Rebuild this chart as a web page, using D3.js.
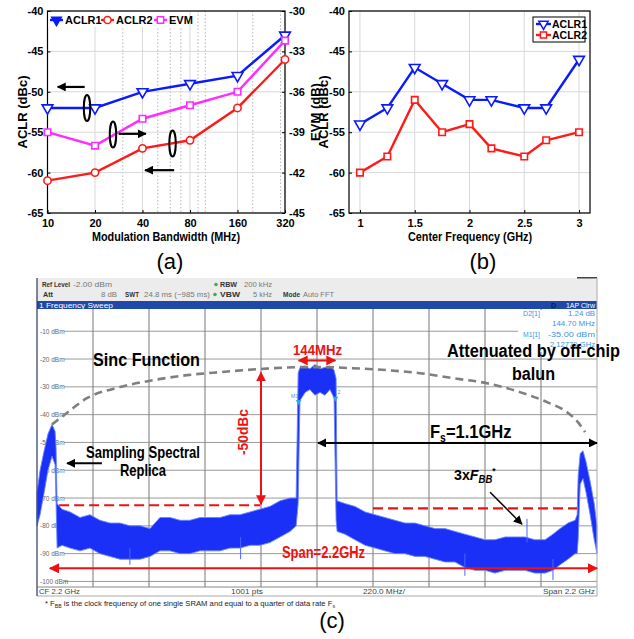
<!DOCTYPE html>
<html>
<head>
<meta charset="utf-8">
<script src="https://cdn.jsdelivr.net/npm/d3@7"></script>
<style>
body{margin:0;background:#fff;}
svg{display:block;font-family:"Liberation Sans",Arial,sans-serif;}
</style>
</head>
<body>
<svg id="svg" width="634" height="639"></svg>
<script>
// ---- panel (a): ACLR / EVM vs modulation bandwidth ----
var bwTicks=[10,20,40,80,160,320];
var bwMinor=[30,50,60,70,90,100,200,300];
var aclr1A=[-52,-52,-50,-49,-48,-43];
var aclr2A=[-61,-60,-57,-56,-52,-46];
var evmA=[-39,-40,-38,-37,-36,-32.2];
var aclrTicks=[-65,-60,-55,-50,-45,-40];
var evmTicks=[-45,-42,-39,-36,-33,-30];

// ---- panel (b): ACLR vs center frequency ----
var cFreq=[1,1.25,1.5,1.75,2,2.2,2.5,2.7,3];
var aclr1B=[-54,-52,-47,-49,-51,-51,-52,-52,-46];
var aclr2B=[-60,-58,-51,-55,-54,-57,-58,-56,-55];
var cfTicks=[1,1.5,2,2.5,3];

// ---- panel (c): spectrum (envelope of the trace, GHz / dBm) ----
var specF=[1.100,1.112,1.128,1.143,1.159,1.171,1.175,1.179,1.198,1.230,
           1.269,1.308,1.347,1.387,1.426,1.465,1.505,1.544,1.583,1.623,
           1.662,1.701,1.740,1.780,1.819,1.858,1.897,1.937,1.976,2.015,
           2.055,2.094,2.118,2.126,2.133,2.153,2.172,2.192,2.212,2.231,
           2.251,2.267,2.275,2.279,2.310,2.349,2.389,2.428,2.467,2.506,
           2.546,2.585,2.624,2.664,2.703,2.742,2.781,2.821,2.860,2.899,
           2.939,2.978,3.017,3.056,3.096,3.127,3.155,3.186,3.214,3.222,
           3.226,3.234,3.245,3.257,3.273,3.289,3.300];
var specHi=[-68,-60,-53,-47,-43.5,-46,-52,-72,-74,-75,
            -77,-76,-78,-79,-79,-80,-80,-81,-77,-77,
            -78,-78,-77,-77,-77,-76,-76,-75,-74,-73,
            -71,-70,-70,-25,-23,-22.5,-23.5,-22,-23.5,-23,
            -22.5,-24,-27,-71,-72,-73,-75,-76,-77,-78,
            -79,-79,-80,-81,-81,-82,-83,-84,-85,-85,
            -84,-84,-84,-85,-85,-83,-81,-79,-78,-76,
            -62,-54,-53,-57,-64,-72,-80];
var specLo=[-80,-76,-68,-60,-55,-58,-72,-88,-87,-88,
            -89,-88,-90,-91,-92,-92,-92,-91,-89,-89,
            -90,-90,-89,-89,-89,-88,-88,-87,-87,-86,
            -84,-82,-80,-72,-35,-32,-31,-33,-32,-33,
            -31,-34,-78,-82,-83,-85,-87,-88,-89,-90,
            -90,-91,-91,-92,-93,-93,-95,-96,-96,-97,
            -96,-96,-96,-97,-97,-96,-94,-92,-90,-90,
            -85,-65,-63,-68,-76,-85,-90];
var spurF=[1.465,1.900,2.781,3.025,3.127];
var spurTop=[-88,-84,-90,-77.5,-92];
var spurBot=[-94,-92,-98,-86,-99.5];
var sincF=[1.159,1.202,1.296,1.426,1.556,1.689,1.819,1.976,2.145,2.212,2.341,2.475,2.605,2.734,2.868,2.997,3.104,3.182,3.225,3.253];
var sincL=[-43.5,-40.5,-34.1,-30.1,-27.6,-25.8,-24.7,-23.6,-22.9,-22.9,-23.3,-24.0,-25.1,-26.9,-28.7,-31.9,-35.5,-39.1,-42.7,-46.3];
var levelTicks=[-10,-20,-30,-40,-50,-60,-70,-80,-90,-100];
var divF=[1.32,1.54,1.76,1.98,2.2,2.42,2.64,2.86,3.08];
var markF=[2.1277,2.2724];
var markL=[-35,-33.76];
var markName=["M1","2"];

var svg=d3.select("#svg");
var defs=svg.append("defs");
var BLUE="#0a1aff", RED="#ff1a1a", MAG="#ff2bff", ANRED="#ee1111";
var narrow="'Liberation Sans Narrow','Arial Narrow','Liberation Sans',Arial,sans-serif";

function arrowHead(id,color,size){
    defs.append("marker")
        .attr("id",id)
        .attr("viewBox","0 0 10 10")
        .attr("refX",9).attr("refY",5)
        .attr("markerWidth",size).attr("markerHeight",size)
        .attr("markerUnits","userSpaceOnUse")
        .attr("orient","auto-start-reverse")
      .append("path").attr("d","M0,0L10,5L0,10z").attr("fill",color);
}
arrowHead("arBlack","#000",9);
arrowHead("arRed","#ee1111",10);

function styleAxis(g,size){
    g.select(".domain").remove();
    g.selectAll("text").attr("font-family","'Liberation Sans',Arial").attr("font-weight","bold")
        .attr("font-size",size).attr("fill","#000");
    g.selectAll(".tick line").attr("stroke","#000");
}

function marks(g,xs,ys,sx,sy,type,color,rot){
    g.selectAll(null).data(ys).enter().append("path")
        .attr("d",d3.symbol().type(type).size(type==d3.symbolTriangle?50:42))
        .attr("transform",(d,i)=>"translate("+sx(xs[i])+","+sy(d)+") rotate("+rot+")")
        .attr("fill","#fff").attr("stroke",color).attr("stroke-width",1.6);
}

function series(g,xs,ys,sx,sy,color){
    g.append("path")
        .attr("d",d3.line().x((d,i)=>sx(xs[i])).y(d=>sy(d))(ys))
        .attr("fill","none").attr("stroke",color).attr("stroke-width",2.4);
}

// ================= (a) =================
var xA=d3.scaleLog().domain([10,320]).range([47.5,285]);
var yA=d3.scaleLinear().domain([-65,-40]).range([213,11]);
var yE=d3.scaleLinear().domain([-45,-30]).range([213,11]);
var gA=svg.append("g");

gA.selectAll(null).data(bwMinor).enter().append("line")
    .attr("x1",d=>xA(d)).attr("x2",d=>xA(d)).attr("y1",11).attr("y2",213)
    .attr("stroke","#b5b5b5").attr("stroke-dasharray","1.5,2");
gA.selectAll(null).data(bwTicks).enter().append("line")
    .attr("x1",d=>xA(d)).attr("x2",d=>xA(d)).attr("y1",11).attr("y2",213)
    .attr("stroke","#d8d8d8");
gA.selectAll(null).data(aclrTicks).enter().append("line")
    .attr("x1",47.5).attr("x2",285).attr("y1",d=>yA(d)).attr("y2",d=>yA(d))
    .attr("stroke","#d8d8d8");

gA.append("g").attr("transform","translate(47.5,0)")
    .call(d3.axisLeft(yA).tickValues(aclrTicks).tickSize(-3).tickPadding(4).tickFormat(d=>d))
    .call(styleAxis,11);
gA.append("g").attr("transform","translate(285,0)")
    .call(d3.axisRight(yE).tickValues(evmTicks).tickSize(-3).tickPadding(4).tickFormat(d=>d))
    .call(styleAxis,11);
gA.append("g").attr("transform","translate(0,213)")
    .call(d3.axisBottom(xA).tickValues(bwTicks).tickSize(-3).tickPadding(6).tickFormat(d=>d))
    .call(styleAxis,11);
gA.append("rect").attr("x",47.5).attr("y",11).attr("width",237.5).attr("height",202)
    .attr("fill","none").attr("stroke","#000").attr("stroke-width",1.2);

series(gA,bwTicks,aclr1A,xA,yA,BLUE);
series(gA,bwTicks,aclr2A,xA,yA,RED);
series(gA,bwTicks,evmA,xA,yE,MAG);
marks(gA,bwTicks,aclr1A,xA,yA,d3.symbolTriangle,BLUE,180);
marks(gA,bwTicks,aclr2A,xA,yA,d3.symbolCircle,RED,0);
marks(gA,bwTicks,evmA,xA,yE,d3.symbolSquare,MAG,0);

// legend (a)
var legA=gA.append("g");
legA.append("rect").attr("x",48.5).attr("y",12).attr("width",140).attr("height",15).attr("fill","#fff");
[["ACLR1",BLUE,d3.symbolTriangle,180,50],["ACLR2",RED,d3.symbolCircle,0,101],["EVM",MAG,d3.symbolSquare,0,154]]
.forEach(function(it){
    legA.append("line").attr("x1",it[4]).attr("x2",it[4]+13).attr("y1",20).attr("y2",20)
        .attr("stroke",it[1]).attr("stroke-width",2.4);
    legA.append("path").attr("d",d3.symbol().type(it[2]).size(40))
        .attr("transform","translate("+(it[4]+6.5)+",20) rotate("+it[3]+")")
        .attr("fill",it[0]=="ACLR1"?BLUE:"#fff").attr("stroke",it[1]).attr("stroke-width",1.5);
    legA.append("text").attr("x",it[4]+15).attr("y",24).text(it[0])
        .attr("font-weight","bold").attr("font-size",11);
});

// annotation ellipses / arrows (a)
[[17.8,-52],[26,-55.3],[62,-56.4]].forEach(function(p){
    gA.append("ellipse").attr("cx",xA(p[0])).attr("cy",yA(p[1])).attr("rx",3.2).attr("ry",13)
        .attr("fill","none").attr("stroke","#000").attr("stroke-width",2);
});
[[17.2,11.6,-49.4],[28.3,42,-55.2],[63.5,41.5,-59.7]].forEach(function(a){
    gA.append("line").attr("x1",xA(a[0])).attr("x2",xA(a[1])).attr("y1",yA(a[2])).attr("y2",yA(a[2]))
        .attr("stroke","#000").attr("stroke-width",2.2).attr("marker-end","url(#arBlack)");
});

svg.append("text").attr("transform","translate(27,112) rotate(-90)").attr("text-anchor","middle")
    .attr("font-weight","bold").attr("font-size",13).text("ACLR (dBc)");
svg.append("text").attr("transform","translate(320,112) rotate(-90)").attr("text-anchor","middle")
    .attr("font-weight","bold").attr("font-size",13).text("EVM (dB)");
svg.append("text").attr("x",166).attr("y",241).attr("text-anchor","middle")
    .attr("font-weight","bold").attr("font-size",12).attr("textLength",148).attr("lengthAdjust","spacingAndGlyphs")
    .text("Modulation Bandwidth (MHz)");

// ================= (b) =================
var xB=d3.scaleLinear().domain([0.9,3.1]).range([349,590]);
var yB=d3.scaleLinear().domain([-65,-40]).range([213,11]);
var gB=svg.append("g");

gB.selectAll(null).data(cfTicks).enter().append("line")
    .attr("x1",d=>xB(d)).attr("x2",d=>xB(d)).attr("y1",11).attr("y2",213).attr("stroke","#d8d8d8");
gB.selectAll(null).data(aclrTicks).enter().append("line")
    .attr("x1",349).attr("x2",590).attr("y1",d=>yB(d)).attr("y2",d=>yB(d)).attr("stroke","#d8d8d8");
gB.append("g").attr("transform","translate(349,0)")
    .call(d3.axisLeft(yB).tickValues(aclrTicks).tickSize(-3).tickPadding(4).tickFormat(d=>d))
    .call(styleAxis,11);
gB.append("g").attr("transform","translate(0,213)")
    .call(d3.axisBottom(xB).tickValues(cfTicks).tickSize(-3).tickPadding(6).tickFormat(d=>d))
    .call(styleAxis,11);
gB.append("rect").attr("x",349).attr("y",11).attr("width",241).attr("height",202)
    .attr("fill","none").attr("stroke","#000").attr("stroke-width",1.2);

series(gB,cFreq,aclr1B,xB,yB,BLUE);
series(gB,cFreq,aclr2B,xB,yB,RED);
marks(gB,cFreq,aclr1B,xB,yB,d3.symbolTriangle,BLUE,180);
marks(gB,cFreq,aclr2B,xB,yB,d3.symbolSquare,RED,0);

var legB=gB.append("g");
legB.append("rect").attr("x",533).attr("y",17).attr("width",52).attr("height",25)
    .attr("fill","#fff").attr("stroke","#000").attr("stroke-width",1);
[["ACLR1",BLUE,d3.symbolTriangle,180,24],["ACLR2",RED,d3.symbolSquare,0,35]].forEach(function(it){
    legB.append("line").attr("x1",536).attr("x2",551).attr("y1",it[4]).attr("y2",it[4])
        .attr("stroke",it[1]).attr("stroke-width",2.4);
    legB.append("path").attr("d",d3.symbol().type(it[2]).size(38))
        .attr("transform","translate(543.5,"+it[4]+") rotate("+it[3]+")")
        .attr("fill","#fff").attr("stroke",it[1]).attr("stroke-width",1.5);
    legB.append("text").attr("x",552).attr("y",it[4]+4).text(it[0])
        .attr("font-weight","bold").attr("font-size",10.5);
});

svg.append("text").attr("transform","translate(328,112) rotate(-90)").attr("text-anchor","middle")
    .attr("font-weight","bold").attr("font-size",13).text("ACLR (dBc)");
svg.append("text").attr("x",470).attr("y",241).attr("text-anchor","middle")
    .attr("font-weight","bold").attr("font-size",12).attr("textLength",124).attr("lengthAdjust","spacingAndGlyphs")
    .text("Center Frequency (GHz)");

svg.append("text").attr("x",170).attr("y",269).attr("text-anchor","middle").attr("font-size",22).text("(a)");
svg.append("text").attr("x",483).attr("y",269).attr("text-anchor","middle").attr("font-size",22).text("(b)");

// ================= (c) =================
var xC=d3.scaleLinear().domain([1.1,3.3]).range([37,597]);
var yC=d3.scaleLinear().domain([-2,-102]).range([309,587]);
var gC=svg.append("g").attr("font-family","'Liberation Sans',Arial,sans-serif");

// header
gC.append("rect").attr("x",37).attr("y",278).attr("width",560).attr("height",23).attr("fill","#ececec");
gC.append("rect").attr("x",577).attr("y",277).attr("width",20).attr("height",1.5).attr("fill","#444");
function hText(x,y,s,bold,anchor,col,len){
    var t=gC.append("text").attr("x",x).attr("y",y).text(s).attr("font-size",7.2)
        .attr("font-weight",bold?"bold":"normal").attr("fill",col||(bold?"#333":"#777"))
        .attr("text-anchor",anchor||"start");
    if(len) t.attr("textLength",len).attr("lengthAdjust","spacingAndGlyphs");
    return t;
}
hText(42,287,"Ref Level",true,null,null,28); hText(73,287,"-2.00 dBm",false,null,null,39);
hText(43,297,"Att",true,null,null,10); hText(117,297,"8 dB",false,"end",null,16);
hText(125,297,"SWT",true,null,null,14); hText(144,297,"24.8 ms (~985 ms)",false,null,null,66);
hText(220,287,"RBW",true,null,null,17); hText(244,287,"200 kHz",false,null,null,28);
hText(220,297,"VBW",true,null,null,20); hText(272,297,"5 kHz",false,"end",null,19);
hText(283,297,"Mode",true,null,null,17); hText(303,297,"Auto FFT",false,null,null,31);
gC.append("circle").attr("cx",216).attr("cy",284.5).attr("r",1.8).attr("fill","#3cb043");
gC.append("circle").attr("cx",215).attr("cy",294.5).attr("r",1.8).attr("fill","#3cb043");

gC.append("rect").attr("x",37).attr("y",301).attr("width",560).attr("height",8).attr("fill","#1f48a8");
gC.append("text").attr("x",39).attr("y",308).attr("font-size",7.2).attr("fill","#fff")
    .attr("textLength",74).attr("lengthAdjust","spacingAndGlyphs").text("1 Frequency Sweep");
gC.append("text").attr("x",595).attr("y",308).attr("font-size",7).attr("fill","#fff").attr("text-anchor","end").text("1AP Clrw");
gC.append("text").attr("x",551).attr("y",308).attr("font-size",7).attr("font-weight","bold").attr("fill","#081a5c").text("D");

// plot area and grid
gC.append("rect").attr("x",37).attr("y",309).attr("width",560).attr("height",278).attr("fill","#fff");
gC.selectAll(null).data(levelTicks).enter().append("line")
    .attr("x1",64).attr("x2",597).attr("y1",d=>yC(d)).attr("y2",d=>yC(d))
    .attr("stroke","#9a9a9a").attr("stroke-width",1);
gC.selectAll(null).data(divF).enter().append("line")
    .attr("x1",d=>xC(d)).attr("x2",d=>xC(d)).attr("y1",309).attr("y2",587)
    .attr("stroke","#777").attr("stroke-width",1);
var axC=gC.append("g").attr("transform","translate(37,0)")
    .call(d3.axisRight(yC).tickValues(levelTicks).tickSize(0).tickPadding(3).tickFormat(d=>d+" dBm"));
axC.select(".domain").remove();
axC.selectAll("text").attr("font-size",6.5).attr("fill","#666").attr("font-family","'Liberation Sans',sans-serif");

// marker readout
gC.append("rect").attr("x",518).attr("y",310).attr("width",78).attr("height",42).attr("fill","#fff");
var RD="#3b95dc";
hText(523,316,"D2[1]",false,"start",RD,17); hText(595,316,"1.24 dB",false,"end",RD,27);
hText(595,326,"144.70 MHz",false,"end",RD,43);
hText(523,337,"M1[1]",false,"start",RD,17); hText(595,337,"-35.00 dBm",false,"end",RD,47);
hText(595,347,"2.12770 GHz",false,"end",RD,45);

// spectrum trace
gC.append("path")
    .attr("d",d3.area().x((d,i)=>xC(specF[i])).y0((d,i)=>yC(specLo[i])).y1(d=>yC(d))(specHi))
    .attr("fill","#1a30f6").attr("stroke","#6a86ff").attr("stroke-width",0.9);
gC.selectAll(null).data(spurF).enter().append("line")
    .attr("x1",d=>xC(d)).attr("x2",d=>xC(d))
    .attr("y1",(d,i)=>yC(spurTop[i])).attr("y2",(d,i)=>yC(spurBot[i]))
    .attr("stroke","#4a66ff").attr("stroke-width",1);

// markers M1 / 2
gC.selectAll(null).data(markF).enter().append("path")
    .attr("d",d3.symbol().type(d3.symbolTriangle).size(14))
    .attr("transform",(d,i)=>"translate("+xC(d)+","+(yC(markL[i])+1)+") rotate(180)")
    .attr("fill","#2ea7e8");
gC.selectAll(null).data(markF).enter().append("text")
    .attr("x",(d,i)=>xC(d)+(i?2:-4)).attr("y",(d,i)=>yC(markL[i])-3)
    .attr("font-size",5.5).attr("fill","#2ea7e8").attr("text-anchor",(d,i)=>i?"start":"middle")
    .text((d,i)=>markName[i]);

// bottom bar and frame
gC.append("rect").attr("x",37).attr("y",587).attr("width",560).attr("height",9).attr("fill","#fff");
gC.append("line").attr("x1",37).attr("x2",597).attr("y1",587).attr("y2",587).attr("stroke","#888");
gC.append("line").attr("x1",37).attr("x2",597).attr("y1",596).attr("y2",596).attr("stroke","#aaa");
gC.append("line").attr("x1",597).attr("x2",597).attr("y1",278).attr("y2",596).attr("stroke","#aaa");
gC.append("line").attr("x1",37).attr("x2",37).attr("y1",278).attr("y2",596).attr("stroke","#3a4766").attr("stroke-width",1.3);
hText(39,594,"CF 2.2 GHz",false,"start","#444",41);
hText(231,594,"1001 pts",false,"start","#444",32);
hText(363,594,"220.0 MHz/",false,"start","#444",42);
hText(595,594,"Span 2.2 GHz",false,"end","#444",52);

// sinc envelope
gC.append("path")
    .attr("d",d3.line().curve(d3.curveMonotoneX).x((d,i)=>xC(sincF[i])).y(d=>yC(d))(sincL))
    .attr("fill","none").attr("stroke","#7f7f7f").attr("stroke-width",2.6).attr("stroke-dasharray","8,5");

// red annotations
function hLine(f0,f1,lvl,color,w,dash,both){
    var l=gC.append("line").attr("x1",xC(f0)).attr("x2",xC(f1)).attr("y1",yC(lvl)).attr("y2",yC(lvl))
        .attr("stroke",color).attr("stroke-width",w);
    if(dash) l.attr("stroke-dasharray",dash);
    if(both){ l.attr("marker-end",both).attr("marker-start",both); }
    return l;
}
hLine(1.187,1.977,-72.6,ANRED,2.2,"10,5");
hLine(2.42,3.222,-73.7,ANRED,2.2,"10,5");
hLine(2.128,2.272,-20.5,ANRED,2,null,"url(#arRed)");
hLine(1.151,3.300,-95.3,ANRED,2,null,"url(#arRed)");
hLine(2.204,3.300,-50.2,"#000",2,null,"url(#arBlack)");
hLine(1.355,1.218,-57.5,"#000",2).attr("marker-end","url(#arBlack)");
gC.append("line").attr("x1",xC(1.98)).attr("x2",xC(1.98)).attr("y1",yC(-24.8)).attr("y2",yC(-72.2))
    .attr("stroke",ANRED).attr("stroke-width",2)
    .attr("marker-start","url(#arRed)").attr("marker-end","url(#arRed)");
gC.append("line").attr("x1",xC(2.88)).attr("x2",xC(3.005)).attr("y1",yC(-67.9)).attr("y2",yC(-79.4))
    .attr("stroke","#000").attr("stroke-width",1.5).attr("marker-end","url(#arBlack)");

// annotation texts
function ann(x,y,s,size,len,color,anchor){
    return svg.append("text").attr("x",x).attr("y",y).text(s)
        .attr("font-family",narrow).attr("font-weight","bold").attr("font-size",size)
        .attr("fill",color||"#000").attr("text-anchor",anchor||"start")
        .attr("textLength",len).attr("lengthAdjust","spacingAndGlyphs");
}
ann(93,366,"Sinc Function",19,107);
ann(293,355,"144MHz",15,49,ANRED);
ann(86,458,"Sampling Spectral",17,114);
ann(120,476,"Replica",17,46);
ann(447,357,"Attenuated by off-chip",18,173);
ann(512,380,"balun",18,43);
ann(282,558,"Span=2.2GHz",16,83,ANRED);
svg.append("text").attr("transform","translate(248,432) rotate(-90)").attr("text-anchor","middle")
    .attr("font-family",narrow).attr("font-weight","bold").attr("font-size",15).attr("fill",ANRED)
    .attr("textLength",46).attr("lengthAdjust","spacingAndGlyphs").text("-50dBc");

var fs=svg.append("text").attr("transform","translate(430,438) scale(0.87,1)")
    .attr("font-family",narrow).attr("font-weight","bold").attr("font-size",19);
fs.append("tspan").text("F");
fs.append("tspan").attr("font-size",12).attr("dy",4).text("s");
fs.append("tspan").attr("dy",-4).text("=1.1GHz");

var fb=svg.append("text").attr("transform","translate(454,480) scale(0.95,1)")
    .attr("font-family",narrow).attr("font-weight","bold").attr("font-size",15);
fb.append("tspan").text("3x");
fb.append("tspan").attr("font-style","italic").text("F");
fb.append("tspan").attr("font-style","italic").attr("font-size",10).attr("dy",3).text("BB");
fb.append("tspan").attr("font-size",9).attr("dy",-9).text("*");

var fn=svg.append("text").attr("x",45).attr("y",606).attr("font-size",7.4).attr("fill","#222")
    .attr("textLength",290).attr("lengthAdjust","spacingAndGlyphs");
fn.append("tspan").text("* F");
fn.append("tspan").attr("font-size",5).attr("dy",1.5).text("BB");
fn.append("tspan").attr("dy",-1.5).text(" is the clock frequency of one single SRAM and equal to a quarter of data rate F");
fn.append("tspan").attr("font-size",5).attr("dy",1.5).text("s");

svg.append("text").attr("x",332).attr("y",628).attr("text-anchor","middle").attr("font-size",22).text("(c)");
</script>
</body>
</html>
